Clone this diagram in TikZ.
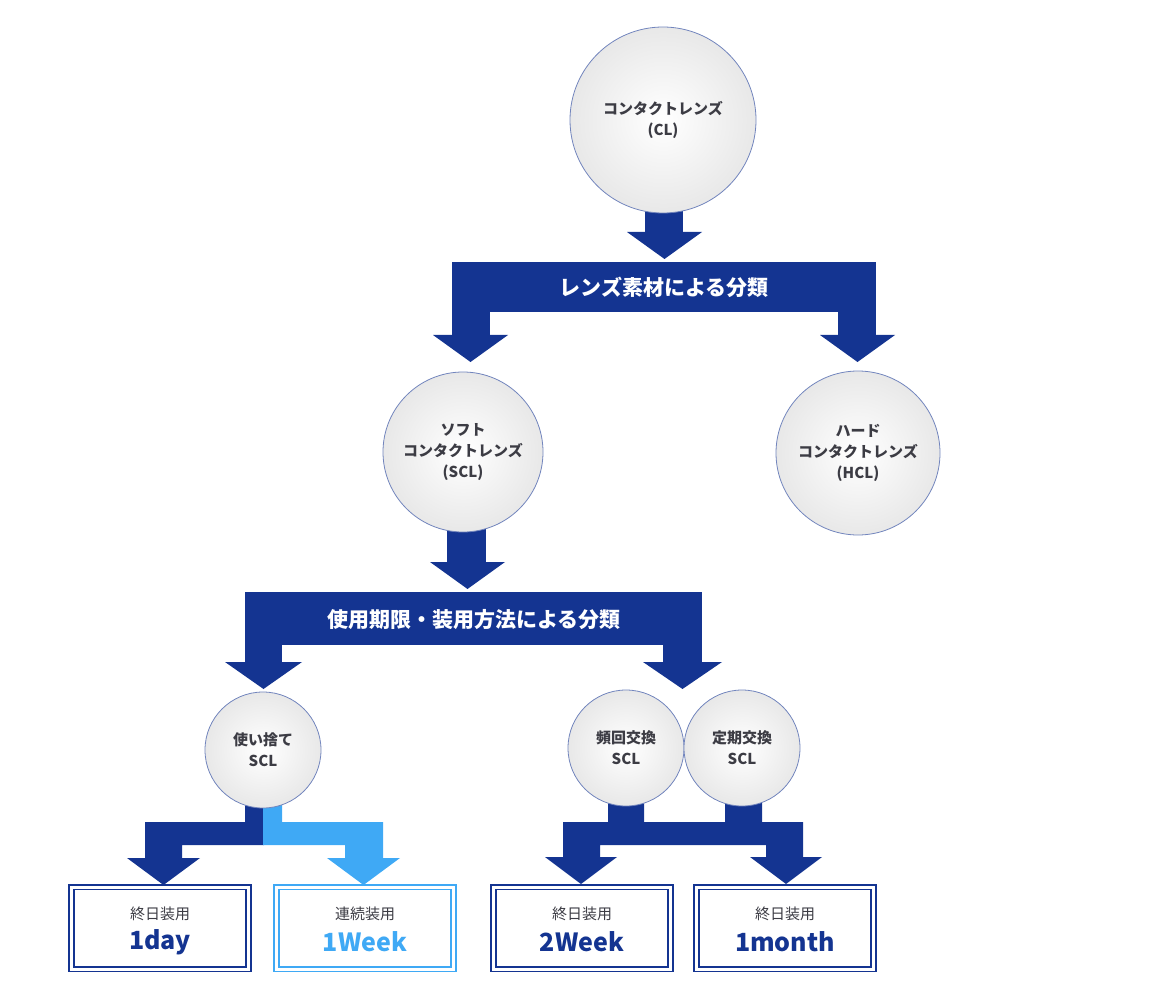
\documentclass[tikz,border=0pt]{standalone}
\usepackage{fontspec}
\setmainfont{Noto Sans CJK JP}
\definecolor{clnavy}{RGB}{20,52,145}
\definecolor{clsky}{RGB}{63,169,245}
\definecolor{cltext}{RGB}{60,60,68}
\newcommand{\clhead}[4][clnavy]{% tip below a leg: left x, right x, top y, tip y
  \fill[#1] (#2,#4) -- (#3,#4) -- ({(#2+#3)/2},#4+27) -- cycle;}
\begin{document}
\begin{tikzpicture}[x=1pt,y=-1pt,
  lens/.style={circle, draw=clnavy!60, line width=0.8pt, inner color=white, outer color=black!9,
    text=cltext, font=\bfseries\fontsize{15}{21}\selectfont, align=center},
  band/.style={fill=clnavy},
  bandtext/.style={text=white, font=\bfseries\fontsize{21}{24}\selectfont},
  kind/.style={draw=#1, line width=1.6pt, double=white, double distance=3pt, fill=white,
    minimum width=177pt, minimum height=82pt, align=center},
  small/.style={text=cltext, font=\fontsize{15}{18}\selectfont},
  big/.style={font=\bfseries\fontsize{25}{28}\selectfont}]
\useasboundingbox (0,0) rectangle (1170,1000);
% level 1
\fill[clnavy] (645,200) rectangle (683,233);
\clhead{627}{702}{232}
\node[lens, minimum size=186pt] (cl) at (663,120) {コンタクトレンズ\\(CL)};
\fill[band] (452,262) rectangle (876,312);
\node[bandtext] (material) at (664,287) {レンズ素材による分類};
\fill[clnavy] (452,310) rectangle (490,336);
\clhead{433}{508}{335}
\fill[clnavy] (838,310) rectangle (876,336);
\clhead{820}{895}{335}
% level 2
\fill[clnavy] (447,520) rectangle (486,563);
\clhead{430}{505}{562}
\node[lens, minimum size=160pt] (scl) at (463,452) {ソフト\\コンタクトレンズ\\(SCL)};
\node[lens, minimum size=164pt] (hcl) at (858,453) {ハード\\コンタクトレンズ\\(HCL)};
\fill[band] (245,592) rectangle (702,645);
\node[bandtext] (usage) at (474,620) {使用期限・装用方法による分類};
\fill[clnavy] (245,643) rectangle (282,663);
\clhead{225}{302}{662}
\fill[clnavy] (663,643) rectangle (702,663);
\clhead{643}{722}{662}
% level 3
\fill[clnavy] (245,800) rectangle (264,845) (145,822) rectangle (264,845) (145,843) rectangle (182,859);
\clhead{127}{200}{858}
\fill[clsky] (263,800) rectangle (282,845) (263,822) rectangle (383,845) (345,843) rectangle (383,859);
\clhead[clsky]{327}{400}{858}
\fill[clnavy] (608,800) rectangle (644,824) (725,800) rectangle (762,824)
  (563,822) rectangle (803,845) (563,843) rectangle (600,859) (766,843) rectangle (803,859);
\clhead{545}{617}{857}
\clhead{750}{822}{857}
\node[lens, minimum size=116pt] (disp) at (263,750) {使い捨て\\SCL};
\node[lens, minimum size=116pt] (freq) at (626,748) {頻回交換\\SCL};
\node[lens, minimum size=116pt] (plan) at (742,748) {定期交換\\SCL};
% boxes
\foreach \nm/\cx/\col/\top/\bot in {day/160/clnavy/終日装用/1day, week/365/clsky/連続装用/1Week,
    twoweek/582/clnavy/終日装用/2Week, month/785/clnavy/終日装用/1month}{
  \node[kind=\col] (\nm) at (\cx,928) {};
  \node[small] at (\cx,914) {\top};
  \node[big, text=\col] at (\cx,942) {\bot};
}
\end{tikzpicture}
\end{document}
